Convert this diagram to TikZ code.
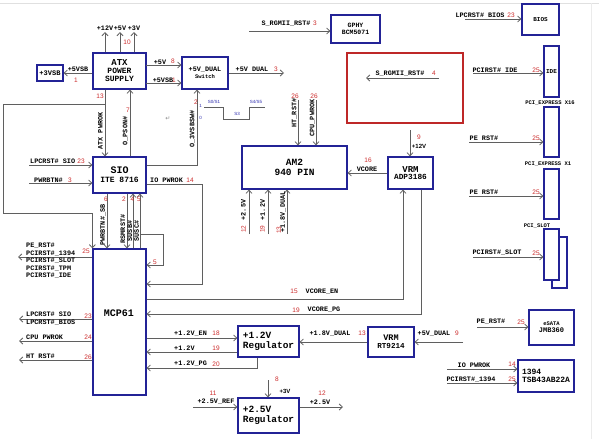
\documentclass[tikz,border=0pt]{standalone}
\usepackage{fontspec}
\setmonofont{Liberation Mono}
\setsansfont{Liberation Sans}
\newfontfamily\dejavufont{DejaVu Sans}
\usepackage{tikz}
\usetikzlibrary{arrows.meta}
\definecolor{boxblue}{RGB}{35,35,150}
\definecolor{redbox}{RGB}{190,40,40}
\definecolor{numred}{RGB}{205,45,45}
\definecolor{linegray}{RGB}{95,95,95}
\definecolor{waveblue}{RGB}{45,45,175}
\newcommand{\fsz}[1]{\fontsize{#1}{#1}\selectfont}

\tikzset{
  blk/.style={draw=boxblue, line width=1.3pt, align=center, inner sep=0pt,
    font=\ttfamily\bfseries\fsz{8}},
  sig/.style={draw=linegray, line width=0.8pt},
  arr/.style={sig, -{Straight Barb[length=3.2pt,width=6pt]}},
  lbl/.style={inner sep=0pt, font=\ttfamily\bfseries\fsz{6.8}},
  vlbl/.style={lbl, rotate=90},
  num/.style={inner sep=0pt, text=numred, font=\sffamily\fsz{6.5}},
  wlbl/.style={inner sep=0pt, text=waveblue, font=\sffamily\fsz{4.5}},
}

\begin{document}
\begin{tikzpicture}[x=1pt, y=-1pt]
  \useasboundingbox (0,0) rectangle (599,439);
  \fill[white] (0,0) rectangle (599,439);
  \draw[black!12, line width=0.6pt] (0,3) -- (599,3);
  \draw[black!8, line width=0.6pt] (591,3) -- (591,439);

  % blocks
  \node[blk, minimum width=26pt, minimum height=16pt, font=\ttfamily\bfseries\fsz{7}] (sb3) at (50,73) {+3VSB};
  \node[blk, minimum width=53pt, minimum height=36pt] (atx) at (119.5,71) {{\fsz{9}ATX}\\POWER\\SUPPLY};
  \node[blk, minimum width=46pt, minimum height=32pt, font=\ttfamily\bfseries\fsz{6.8}] (sw) at (205,73) {+5V\_DUAL\\{\fsz{5.5}Switch}};
  \node[blk, minimum width=49pt, minimum height=28pt, font=\ttfamily\bfseries\fsz{6.5}] (gphy) at (355.5,29) {GPHY\\BCM5071};
  \node[draw=redbox, line width=1.3pt, minimum width=116pt, minimum height=70pt] (rgmii) at (405,88) {};
  \node[blk, minimum width=37pt, minimum height=31pt, font=\ttfamily\bfseries\fsz{6}] (bios) at (540.5,19.5) {BIOS};
  \node[blk, minimum width=15pt, minimum height=51pt, font=\ttfamily\bfseries\fsz{6}] (ide) at (551.5,71.5) {IDE};
  \node[blk, minimum width=15pt, minimum height=50pt] (pcie16) at (551.5,132) {};
  \node[blk, minimum width=15pt, minimum height=50pt] (pcie1) at (551.5,194) {};
  \node[blk, minimum width=15pt, minimum height=51pt] (pcislotb) at (559.5,262.5) {};
  \node[blk, fill=white, minimum width=15pt, minimum height=51pt] (pcislot) at (551.5,254.5) {};
  \node[blk, minimum width=53pt, minimum height=36pt] (sio) at (119.5,175) {{\fsz{10}SIO}\\[1pt]ITE 8716};
  \node[blk, minimum width=53pt, minimum height=146pt] (mcp) at (119.5,322) {};
  \node[lbl, font=\ttfamily\bfseries\fsz{10}] (tmcp) at (119,313) {MCP61};
  \node[blk, minimum width=105pt, minimum height=43pt, font=\ttfamily\bfseries\fsz{9.5}] (am2) at (294.5,167.5) {AM2\\940 PIN};
  \node[blk, minimum width=45pt, minimum height=32pt, font=\ttfamily\bfseries\fsz{7.8}] (vrm) at (410.5,173) {{\fsz{9}VRM}\\ADP3186};
  \node[blk, minimum width=61pt, minimum height=31pt, align=left, font=\ttfamily\bfseries\fsz{9.5}] (reg12) at (268.5,341.5) {+1.2V\\Regulator};
  \node[blk, minimum width=46pt, minimum height=30pt, font=\ttfamily\bfseries\fsz{7.6}] (rt) at (391,342) {{\fsz{8.5}VRM}\\RT9214};
  \node[blk, minimum width=61pt, minimum height=35pt, align=left, font=\ttfamily\bfseries\fsz{9.5}] (reg25) at (268.5,415.5) {+2.5V\\Regulator};
  \node[blk, minimum width=45pt, minimum height=35pt, font=\ttfamily\bfseries\fsz{7}] (esata) at (551.5,327.5) {{\fsz{5.5}eSATA}\\JMB360};
  \node[blk, minimum width=56pt, minimum height=32pt, align=left] (fw) at (546,376) {1394\\TSB43AB22A};

  % card titles
  \node[lbl, font=\ttfamily\bfseries\fsz{5.5}] (tx16) at (550,103) {PCI\_EXPRESS X16};
  \node[lbl, font=\ttfamily\bfseries\fsz{5.5}] (tx1) at (548,164) {PCI\_EXPRESS X1};
  \node[lbl, font=\ttfamily\bfseries\fsz{5.5}] (tslot) at (537,226) {PCI\_SLOT};

  % ATX rails
  \coordinate (v12) at (105,32);
  \coordinate (v5) at (120,32);
  \coordinate (v3) at (134,32);
  \draw[arr] (atx.north -| v12) -- (v12) node[lbl, above=1.5pt] (t12v) {+12V};
  \draw[arr] (atx.north -| v5) -- (v5) node[lbl, above=1.5pt] (t5v) {+5V};
  \draw[arr] (atx.north -| v3) -- (v3) node[lbl, above=1.5pt] (t3v) {+3V};
  \node[num] (n10) at (127,42) {10};
  \draw[arr] (sb3.east -| atx.west) -- (sb3.east);
  \node[lbl] (t5vsba) at (78,69) {+5VSB};
  \node[num] (n1a) at (76,80) {1};
  \coordinate (p5) at (146,65);
  \coordinate (psb) at (146,83);
  \draw[arr] (p5) -- (p5 -| sw.west);
  \draw[arr] (psb) -- (psb -| sw.west);
  \node[lbl] (t5va) at (160,62) {+5V};
  \node[num] (n8a) at (173,61) {8};
  \node[lbl] (t5vsbb) at (163,80) {+5VSB};
  \node[num] (n1b) at (174,80) {1};
  \coordinate (dual) at (284,73);
  \draw[arr] (sw.east) -- (dual);
  \node[lbl] (tdual) at (252,69) {+5V DUAL};
  \node[num] (n3a) at (276,69) {3};

  % reset to GPHY and red block
  \coordinate (rg1) at (249,31);
  \draw[arr] (rg1) -- (rg1 -| gphy.west);
  \node[lbl] (trg1) at (286,24) {S\_RGMII\_RST\#};
  \node[num] (n3b) at (315,23) {3};
  \coordinate (rg2) at (439,78);
  \coordinate (rg2e) at (366,78);
  \draw[arr] (rg2) -- (rg2e);
  \node[lbl] (trg2) at (400,74) {S\_RGMII\_RST\#};
  \node[num] (n4a) at (434,73) {4};

  % right side slots
  \coordinate (bi) at (465,19);
  \coordinate (id) at (473,73);
  \coordinate (x16) at (469,142);
  \coordinate (x1) at (469,196);
  \coordinate (ps) at (473,257);
  \draw[arr] (bi) -- (bi -| bios.west);
  \draw[arr] (id) -- (id -| ide.west);
  \draw[arr] (x16) -- (x16 -| pcie16.west);
  \draw[arr] (x1) -- (x1 -| pcie1.west);
  \draw[arr] (ps) -- (ps -| pcislot.west);
  \node[lbl] (tbios) at (480,15) {LPCRST\# BIOS};
  \node[num] (n23a) at (511,15) {23};
  \node[lbl] (tide) at (495,70) {PCIRST\# IDE};
  \node[num] (n25a) at (536,70) {25};
  \node[lbl] (tpe1) at (484,138) {PE RST\#};
  \node[num] (n25b) at (536,138) {25};
  \node[lbl] (tpe2) at (484,192) {PE RST\#};
  \node[num] (n25c) at (536,192) {25};
  \node[lbl] (tps) at (497,253) {PCIRST\#\_SLOT};
  \node[num] (n25d) at (536,253) {25};

  % CPU power and resets
  \coordinate (v12b) at (410,130);
  \draw[arr] (v12b) -- (v12b |- vrm.north);
  \node[num] (n9a) at (419,137) {9};
  \node[lbl, font=\sffamily\bfseries\fsz{6}] (t12b) at (419,146) {+12V};
  \draw[arr] (vrm.west) -- (vrm.west -| am2.east);
  \node[lbl] (tvcore) at (367,169) {VCORE};
  \node[num] (n16) at (368,160) {16};
  \coordinate (htr) at (298,100);
  \coordinate (cpw) at (316,100);
  \draw[arr] (htr) -- (htr |- am2.north);
  \draw[arr] (cpw) -- (cpw |- am2.north);
  \node[vlbl] (tht) at (294.5,113) {HT\_RST\#};
  \node[num] (n26a) at (295,96) {26};
  \node[vlbl] (tcpu) at (312.5,118) {CPU\_PWROK};
  \node[num] (n26b) at (314,96) {26};
  \coordinate (a25) at (249,234);
  \coordinate (a12) at (268,234);
  \coordinate (a18) at (287,234);
  \draw[arr] (a25) -- (a25 |- am2.south);
  \draw[arr] (a12) -- (a12 |- am2.south);
  \draw[arr] (a18) -- (a18 |- am2.south);
  \node[vlbl] (t25v) at (243.5,210) {+2.5V};
  \node[num, rotate=90] (n12a) at (243.5,229) {12};
  \node[vlbl] (t12v2) at (262.5,210) {+1.2V};
  \node[num, rotate=90] (n19a) at (262.5,229) {19};
  \node[vlbl] (t18v) at (283,212) {+1.8V\_DUAL};
  \node[num, rotate=90] (n13a) at (279,230) {13};

  % ATX / SIO control lines
  \coordinate (pwok) at (105,104);
  \coordinate (lft) at (3,213);
  \draw[arr] (atx.south -| pwok) -- (pwok |- sio.north);
  \draw[arr] (pwok) -| (lft) -| (mcp.north west);
  \node[num] (n13b) at (100,96) {13};
  \node[vlbl] (tpwok) at (100.5,131) {ATX PWROK};
  \coordinate (pson) at (130,120);
  \draw[arr] (sio.north -| pson) -- (pson |- atx.south);
  \node[num] (n7) at (128,110) {7};
  \node[vlbl] (tpson) at (125.5,131) {O\_PSON\#};
  \coordinate (swb) at (197,165);
  \draw[arr] (swb -| sio.east) -- (swb) -- (swb |- sw.south);
  \node[num] (n2a) at (196,102) {2};
  \node[vlbl] (t3vsw) at (192.5,129) {O\_3VSBSW\#};

  % switch waveform
  \draw[linegray, line width=0.6pt] (204,107) -- (223,107) -- (223,119) -- (249,119) -- (249,107) -- (265,107);
  \node[wlbl] (w1) at (200.5,106) {1};
  \node[wlbl] (w0) at (200.5,118) {0};
  \node[wlbl] (ws01) at (214,102) {S0/S1};
  \node[wlbl] (ws3) at (237,114) {S3};
  \node[wlbl] (ws45) at (256,102) {S4/S5};
  \node[inner sep=0pt, text=black!45, font=\dejavufont\fsz{6}] (tret) at (168,119) {↵};

  % SIO inputs
  \coordinate (lsio) at (29,165);
  \coordinate (pwb) at (29,183);
  \draw[arr] (lsio) -- (lsio -| sio.west);
  \draw[arr] (pwb) -- (pwb -| sio.west);
  \node[lbl, anchor=west] (tlpc) at (30,161) {LPCRST\# SIO};
  \node[num] (n23c) at (81,161) {23};
  \node[lbl, anchor=west] (tpwb) at (34,180) {PWRBTN\#};
  \node[num] (n3c) at (70,180) {3};
  \coordinate (iop) at (202,184);
  \coordinate (iob) at (202,284);
  \draw[arr] (iop -| sio.east) -- (iop) -- (iob) -- (iob -| mcp.east);
  \node[lbl, anchor=west] (tiop) at (150,180) {IO PWROK};
  \node[num] (n14a) at (190,180) {14};

  % SIO to MCP61
  \coordinate (pbs) at (107,220);
  \coordinate (rsm) at (127,220);
  \coordinate (susb) at (133,220);
  \coordinate (susc) at (140,220);
  \draw[arr] (sio.south -| pbs) -- (pbs |- mcp.north);
  \draw[arr] (sio.south -| rsm) -- (rsm |- mcp.north);
  \draw[arr] (mcp.north -| susb) -- (susb |- sio.south);
  \draw[arr] (mcp.north -| susc) -- (susc |- sio.south);
  \coordinate (lp1) at (163,234);
  \coordinate (lp2) at (163,265);
  \draw[arr] (lp1 -| susc) -- (lp1) -- (lp2) -- (lp2 -| mcp.east);
  \node[num] (n6) at (106,199) {6};
  \node[vlbl] (tpbsb) at (103,225) {PWRBTN\#\_SB};
  \node[num] (n2b) at (124,199) {2};
  \node[vlbl] (trsm) at (123,229) {RSMRST\#};
  \node[num] (n4b) at (132.5,199) {4};
  \node[vlbl] (tsusb) at (129.8,231) {SUSB\#};
  \node[num] (n5a) at (139,199) {5};
  \node[vlbl] (tsusc) at (136.6,231) {SUSC\#};
  \node[num] (n5b) at (155,262) {5};

  % MCP61 outputs to the left
  \coordinate (pe) at (18,257);
  \coordinate (lpc) at (19,319);
  \coordinate (cpu) at (19,341);
  \coordinate (ht) at (19,360);
  \draw[arr] (pe -| mcp.west) -- (pe);
  \draw[arr] (lpc -| mcp.west) -- (lpc);
  \draw[arr] (cpu -| mcp.west) -- (cpu);
  \draw[arr] (ht -| mcp.west) -- (ht);
  \node[lbl, anchor=west] (tpe) at (26,246) {PE\_RST\#};
  \node[lbl, anchor=west] (t1394) at (26,253.5) {PCIRST\#\_1394};
  \node[lbl, anchor=west] (tslot2) at (26,261) {PCIRST\#\_SLOT};
  \node[lbl, anchor=west] (ttpm) at (26,268.5) {PCIRST\#\_TPM};
  \node[lbl, anchor=west] (tide2) at (26,276) {PCIRST\#\_IDE};
  \node[num] (n25e) at (86,251) {25};
  \node[lbl, anchor=west] (tlsio) at (26,314) {LPCRST\# SIO};
  \node[lbl, anchor=west] (tlbios) at (26,323) {LPCRST\#\_BIOS};
  \node[num] (n23b) at (88,316) {23};
  \node[lbl, anchor=west] (tcpu2) at (26,337.5) {CPU PWROK};
  \node[num] (n24) at (88,337) {24};
  \node[lbl, anchor=west] (tht2) at (26,356.5) {HT RST\#};
  \node[num] (n26c) at (88,357) {26};

  % VRM enable / power good
  \coordinate (ven) at (403,299);
  \coordinate (vpg) at (421,314);
  \draw[arr] (ven -| mcp.east) -- (ven) -- (ven |- vrm.south);
  \draw[arr] (vrm.south -| vpg) -- (vpg) -- (vpg -| mcp.east);
  \node[lbl] (tven) at (322,292) {VCORE\_EN};
  \node[num] (n15) at (294,291) {15};
  \node[lbl] (tvpg) at (324,310) {VCORE\_PG};
  \node[num] (n19b) at (296,310) {19};

  % +1.2V regulator
  \coordinate (e18) at (200,338);
  \coordinate (e19) at (200,352);
  \coordinate (e20) at (257,368);
  \draw[arr] (mcp.east |- e18) -- (e18 -| reg12.west);
  \draw[arr] (e19 -| reg12.west) -- (e19 -| mcp.east);
  \draw[arr] (reg12.south -| e20) -- (e20) -- (e20 -| mcp.east);
  \node[lbl, anchor=west] (ten) at (174,334) {+1.2V\_EN};
  \node[num] (n18) at (216,333) {18};
  \node[lbl, anchor=west] (t12) at (174,348) {+1.2V};
  \node[num] (n19c) at (216,348) {19};
  \node[lbl, anchor=west] (tpg) at (174,364) {+1.2V\_PG};
  \node[num] (n20) at (216,364) {20};
  \draw[arr] (rt.west) -- (rt.west -| reg12.east);
  \node[lbl] (t18d) at (330,334) {+1.8V\_DUAL};
  \node[num] (n13c) at (362,333) {13};
  \coordinate (d5) at (463,342);
  \draw[arr] (d5) -- (d5 -| rt.east);
  \node[lbl] (t5d) at (434,334) {+5V\_DUAL};
  \node[num] (n9b) at (457,333) {9};

  % +2.5V regulator
  \coordinate (v3b) at (268,380);
  \draw[arr] (v3b) -- (v3b |- reg25.north);
  \node[num] (n8b) at (277,379) {8};
  \node[lbl, font=\sffamily\bfseries\fsz{6}] (t3vb) at (285,391) {+3V};
  \coordinate (rf) at (193,407);
  \coordinate (o25) at (343,407);
  \draw[arr] (rf) -- (rf -| reg25.west);
  \draw[arr] (o25 -| reg25.east) -- (o25);
  \node[lbl] (t25r) at (216,402) {+2.5V\_REF};
  \node[num] (n11) at (213,393) {11};
  \node[lbl] (t25o) at (320,402) {+2.5V};
  \node[num] (n12b) at (322,393) {12};

  % eSATA and 1394
  \coordinate (es) at (477,327);
  \coordinate (io2) at (447,369);
  \coordinate (pf) at (447,383);
  \draw[arr] (es) -- (es -| esata.west);
  \draw[arr] (io2) -- (io2 -| fw.west);
  \draw[arr] (pf) -- (pf -| fw.west);
  \node[lbl] (tpe3) at (491,322) {PE\_RST\#};
  \node[num] (n25f) at (521,322) {25};
  \node[lbl] (tiop2) at (474,365) {IO PWROK};
  \node[num] (n14b) at (512,364) {14};
  \node[lbl] (t1394b) at (471,380) {PCIRST\#\_1394};
  \node[num] (n25g) at (512,379) {25};
\end{tikzpicture}
\end{document}
